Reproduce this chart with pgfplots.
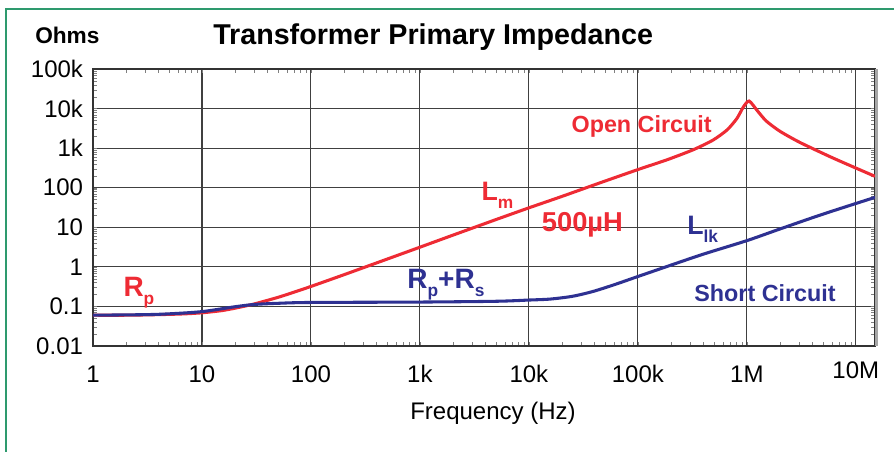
\documentclass[border=0pt]{standalone}
\usepackage{pgfplots}
\pgfplotsset{compat=1.18}
\usepackage{fontspec}
\setmainfont{Liberation Sans}
\definecolor{ocred}{HTML}{EE2B34}
\definecolor{scblue}{HTML}{2E3192}
\definecolor{framegreen}{HTML}{2E9A6E}
\newcommand{\sub}[1]{\raisebox{-6pt}{\fontsize{13}{13}\selectfont #1}}
\newcommand{\fs}[1]{\fontsize{#1}{#1}\selectfont}

\begin{document}
\begin{tikzpicture}[x=1pt,y=1pt]
\useasboundingbox (-69.75,-78.75) rectangle (600.75,259.5);
\draw[framegreen, line width=1.5pt] (-65.25,-80) -- (-65.25,252.75) -- (602,252.75);
\begin{axis}[
  at={(0,0)}, anchor=south west,
  scale only axis, width=586.5pt, height=207.75pt,
  xmode=log, ymode=log,
  xmin=1, xmax=1.5e7, ymin=0.01, ymax=1e5,
  xtick={1,10,100,1000,1e4,1e5,1e6,1e7},
  xticklabels={1,10,100,1k,10k,100k,1M,{\raisebox{3pt}{10M}}},
  ytick={0.01,0.1,1,10,100,1000,1e4,1e5},
  yticklabels={0.01,0.1,1,10,100,1k,10k,100k},
  minor xtick={}, minor ytick={},
  grid=major,
  major grid style={black!75, line width=0.8pt},
  major tick length=0pt,
  axis line style={black!80, line width=1.3pt},
  tick label style={font=\fs{18}},
  xticklabel style={anchor=base, yshift=-27pt},
  yticklabel style={anchor=east, xshift=-4pt},
  clip=false,
]
% open circuit
\addplot[ocred, line width=2.3pt, smooth, tension=0.4] coordinates {
  (1,0.060) (2,0.060) (3,0.061) (5,0.063) (7,0.065) (10,0.069) (15,0.078)
  (20,0.090) (30,0.115) (50,0.17) (70,0.23) (100,0.32) (200,0.63) (500,1.57)
  (1000,3.14) (2000,6.3) (5000,15.7) (10000,31) (20000,60) (45000,133)
  (100000,287) (186000,510) (322000,910) (490000,1600) (660000,2900)
  (810000,5600) (930000,11000) (1050000,15500) (1250000,8800) (1500000,4900)
  (2000000,2700) (3060000,1400) (6200000,560) (15000000,194)
};
% short circuit
\addplot[scblue, line width=2.3pt, smooth, tension=0.5] coordinates {
  (1,0.060) (3,0.062) (5,0.065) (10,0.074) (20,0.098) (30,0.112) (50,0.120)
  (100,0.126) (1000,0.129) (5000,0.135) (10000,0.145) (15000,0.152)
  (20000,0.165) (25000,0.18) (30000,0.20) (40000,0.245) (60000,0.35)
  (100000,0.57) (200000,1.1) (400000,2.1)
  (1000000,4.6) (2000000,9.0) (5000000,21.5) (15000000,57)
};
\node[anchor=base west, text=ocred, font=\bfseries\fs{17.5}] at (axis description cs:0.606,0.769) {Open Circuit};
\node[anchor=base west, text=ocred, font=\bfseries\fs{20}] at (axis description cs:0.491,0.527) {L\sub{m}};
\node[anchor=base west, text=ocred, font=\bfseries\fs{20.5}] at (axis description cs:0.568,0.412) {500µH};
\node[anchor=base west, text=ocred, font=\bfseries\fs{21}] at (axis description cs:0.033,0.177) {R\sub{p}};
\node[anchor=base west, text=scblue, font=\bfseries\fs{21}] at (axis description cs:0.396,0.206) {R\sub{p}+R\sub{s}};
\node[anchor=base west, text=scblue, font=\bfseries\fs{20}] at (axis description cs:0.754,0.401) {L\sub{lk}};
\node[anchor=base west, text=scblue, font=\bfseries\fs{17.5}] at (axis description cs:0.763,0.159) {Short Circuit};
\end{axis}
\draw[black!35, line width=2pt] (587.6,0) -- (587.6,207.75);
\node[anchor=base west, inner sep=0pt, font=\bfseries\fs{17}] at (-43.5,227.25) {Ohms};
\node[anchor=base west, inner sep=0pt, font=\bfseries\fs{21.5}] at (90,226.5) {Transformer Primary Impedance};
\node[anchor=base west, inner sep=0pt, font=\fs{18}] at (237.75,-54.75) {Frequency (Hz)};
\end{tikzpicture}
\end{document}
